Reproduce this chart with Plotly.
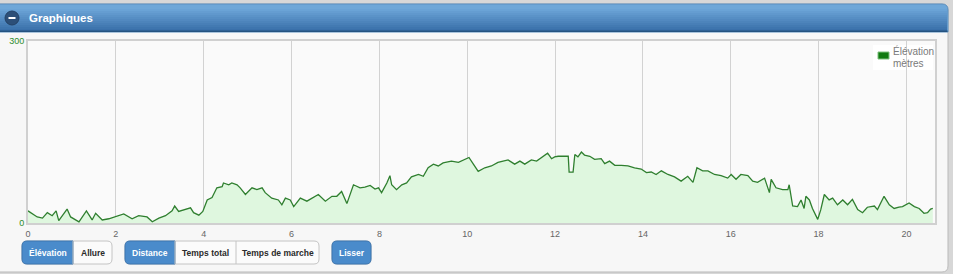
import plotly.graph_objects as go

# ---------------- data ----------------
distance_km = [
    0.0, 0.10, 0.21, 0.33, 0.44, 0.55, 0.64, 0.70, 0.89, 0.97,
    1.16, 1.33, 1.46, 1.54, 1.69, 1.84, 1.99, 2.18, 2.37, 2.52,
    2.71, 2.83, 2.98, 3.13, 3.28, 3.34, 3.43, 3.58, 3.70, 3.77,
    3.89, 3.98, 4.08, 4.19, 4.30, 4.42, 4.45, 4.57, 4.64, 4.76,
    4.83, 4.95, 5.10, 5.21, 5.33, 5.40, 5.55, 5.70, 5.78, 5.86,
    5.97, 6.05, 6.20, 6.35, 6.50, 6.61,
    6.77, 6.92, 7.03, 7.14, 7.26, 7.41, 7.56, 7.67, 7.79, 7.90,
    7.98, 8.05, 8.17, 8.24, 8.28, 8.39, 8.51, 8.62, 8.73, 8.89,
    9.00, 9.11, 9.23, 9.34, 9.45, 9.64, 9.80, 9.91, 9.96, 10.04,
    10.14, 10.25, 10.40, 10.55, 10.70, 10.82, 10.93, 11.08, 11.20, 11.31,
    11.46, 11.58, 11.69, 11.83, 11.92, 11.99, 12.07, 12.26, 12.30, 12.32,
    12.41, 12.45, 12.52, 12.60, 12.67, 12.79, 12.90, 13.05, 13.13, 13.24,
    13.36, 13.51, 13.66, 13.81,
    13.96, 14.08, 14.19, 14.30, 14.42, 14.57, 14.72, 14.87, 15.02, 15.14,
    15.23, 15.36, 15.48, 15.63, 15.78, 15.93, 16.01, 16.12, 16.23, 16.39,
    16.50, 16.61, 16.77, 16.88, 16.92, 17.03, 17.18, 17.30, 17.33, 17.41,
    17.52, 17.60, 17.67, 17.71, 17.79, 17.86, 17.98, 18.05, 18.13, 18.24,
    18.32, 18.43, 18.55, 18.66, 18.77, 18.89, 19.00, 19.11, 19.27, 19.34,
    19.49, 19.61, 19.72, 19.83, 19.91, 20.06, 20.18, 20.29, 20.40, 20.48,
    20.55, 20.6,
]
elevation_m = [
    20, 15, 10, 8, 17, 12, 20, 4, 23, 10,
    2, 20, 5, 16, 5, 7, 10, 15, 7, 12,
    10, 2, 8, 12, 20, 28, 19, 23, 25, 17,
    13, 19, 38, 42, 58, 60, 66, 63, 66, 63,
    58, 47, 58, 55, 58, 50, 41, 38, 30, 41,
    38, 27, 41, 36, 42, 47,
    36, 44, 44, 52, 32, 63, 58, 59, 62, 56,
    58, 50, 66, 78, 63, 55, 63, 66, 76, 80,
    77, 91, 97, 94, 99, 102, 100, 104, 105, 108,
    97, 85, 91, 94, 100, 102, 104, 97, 102, 97,
    104, 102, 108, 115, 106, 109, 110, 110, 110, 84,
    84, 113, 109, 117, 112, 110, 105, 106, 98, 102,
    95, 95, 94, 91,
    89, 83, 84, 80, 86, 80, 76, 69, 77, 67,
    91, 86, 86, 80, 78, 74, 80, 72, 80, 78,
    69, 67, 74, 50, 72, 58, 55, 55, 63, 28,
    27, 38, 24, 44, 38, 24, 6, 22, 47, 38,
    41, 30, 38, 30, 39, 22, 17, 26, 28, 22,
    44, 30, 24, 26, 27, 33, 27, 24, 16, 17,
    23, 24,
]
x_ticks = [0, 2, 4, 6, 8, 10, 12, 14, 16, 18, 20]
y_ticks = [0, 300]
y_tick_labels = ["0", "300"]
panel_title = "Graphiques"
legend_lines = ["Élévation", "mètres"]
buttons_group1 = ["Élévation", "Allure"]
buttons_group2 = ["Distance", "Temps total", "Temps de marche"]
button_single = "Lisser"

# ---------------- geometry helpers ----------------
W, H = 953, 274
ML, MR, MT, MB = 28, 18, 41, 51
PW, PH = W - ML - MR, H - MT - MB
FONT = "Liberation Sans, Arial, Helvetica, sans-serif"


def px(x):
    return (x - ML) / PW


def py(y):
    return (H - MB - y) / PH


def rpath(x0, y0, x1, y1, rtl=0, rtr=0, rbr=0, rbl=0):
    """rounded rectangle path from pixel coords (y down) to paper coords"""
    pts = []
    pts.append(f"M{px(x0 + rtl)},{py(y0)}")
    pts.append(f"L{px(x1 - rtr)},{py(y0)}")
    if rtr:
        pts.append(f"Q{px(x1)},{py(y0)} {px(x1)},{py(y0 + rtr)}")
    pts.append(f"L{px(x1)},{py(y1 - rbr)}")
    if rbr:
        pts.append(f"Q{px(x1)},{py(y1)} {px(x1 - rbr)},{py(y1)}")
    pts.append(f"L{px(x0 + rbl)},{py(y1)}")
    if rbl:
        pts.append(f"Q{px(x0)},{py(y1)} {px(x0)},{py(y1 - rbl)}")
    pts.append(f"L{px(x0)},{py(y0 + rtl)}")
    if rtl:
        pts.append(f"Q{px(x0)},{py(y0)} {px(x0 + rtl)},{py(y0)}")
    pts.append("Z")
    return " ".join(pts)


shapes = []
annotations = []


def add_path(path, fill, line_color=None, lw=0):
    shapes.append(dict(type="path", xref="paper", yref="paper", path=path,
                       fillcolor=fill, layer="below",
                       line=dict(color=line_color or fill, width=lw)))


def add_rect(x0, y0, x1, y1, fill, line_color=None, lw=0):
    shapes.append(dict(type="rect", xref="paper", yref="paper",
                       x0=px(x0), x1=px(x1), y0=py(y1), y1=py(y0),
                       fillcolor=fill, layer="below",
                       line=dict(color=line_color or fill, width=lw)))


def add_text(x, y, text, size, color, bold=False, xanchor="center"):
    annotations.append(dict(xref="paper", yref="paper", x=px(x), y=py(y),
                            text=f"<b>{text}</b>" if bold else text,
                            showarrow=False, xanchor=xanchor, yanchor="middle",
                            font=dict(family=FONT, size=size, color=color)))


# panel
add_path(rpath(-6, 4, 948, 272, 6, 6, 6, 6), "#f7f7f7", "#b9b9b9", 1)
# header with gradient
add_path(rpath(-6, 4, 948, 32, 6, 6, 0, 0), "#6ea7d8", "#5a8fc0", 1)
top_c = (106, 163, 214)
bot_c = (58, 112, 170)
n = 11
for i in range(n):
    t = i / (n - 1)
    c = tuple(int(top_c[k] + (bot_c[k] - top_c[k]) * t) for k in range(3))
    y0 = 9 + i * 2
    add_rect(-5, y0, 947, y0 + 2, "rgb(%d,%d,%d)" % c)
add_rect(-5, 30.5, 947.5, 32, "#24527f")
# minus icon
shapes.append(dict(type="circle", xref="paper", yref="paper",
                   x0=px(5), x1=px(19), y0=py(25), y1=py(11),
                   fillcolor="#2c4f78", layer="below",
                   line=dict(color="#244266", width=1)))
add_rect(8.5, 17, 15.5, 19, "#ffffff")
add_text(27, 17.5, panel_title, 11.5, "#ffffff", bold=True, xanchor="left")

# plot area background
add_rect(ML, MT, W - MR, H - MB, "#fafafa")

# legend (drawn marker + real text)
add_rect(873, 45, 933, 70, "rgba(255,255,255,0.85)")
add_rect(878, 52, 889, 59, "#107a10", "#7fc07f", 1)
add_text(891, 51, legend_lines[0], 10, "#7a7a7a", xanchor="left")
add_text(891, 63, legend_lines[1], 10, "#7a7a7a", xanchor="left")

# buttons
BLUE = "#4a8bcb"
BORDER = "#c4c4c4"
BY0, BY1 = 241, 264
BYC = (BY0 + BY1) / 2
R = 5


def button_group(x_edges, labels, active_idx):
    x0, x1 = x_edges[0], x_edges[-1]
    add_path(rpath(x0, BY0, x1, BY1, R, R, R, R), "#fbfbfb", BORDER, 1)
    for i, lab in enumerate(labels):
        a, b = x_edges[i], x_edges[i + 1]
        first, last = i == 0, i == len(labels) - 1
        if i == active_idx:
            add_path(rpath(a, BY0, b, BY1,
                           R if first else 0, R if last else 0,
                           R if last else 0, R if first else 0),
                     BLUE, "#3d76b0", 1)
            add_text((a + b) / 2, BYC, lab, 8.5, "#ffffff", bold=True)
        else:
            add_text((a + b) / 2, BYC, lab, 8.5, "#2a2a2a", bold=True)
        if i > 0:
            shapes.append(dict(type="line", xref="paper", yref="paper",
                               x0=px(a), x1=px(a), y0=py(BY1), y1=py(BY0),
                               layer="below", line=dict(color=BORDER, width=1)))


button_group([22, 73, 112], buttons_group1, 0)
button_group([125, 175, 236, 319], buttons_group2, 0)
button_group([332, 371], [button_single], 0)

# ---------------- figure ----------------
fig = go.Figure()
fig.add_trace(go.Scatter(
    x=distance_km, y=elevation_m, mode="lines",
    line=dict(color="#2f7f2f", width=1.3),
    fill="tozeroy", fillcolor="#dff7df",
    name="Élévation mètres", showlegend=False, hoverinfo="x+y",
))

fig.update_layout(
    width=W, height=H,
    margin=dict(l=ML, r=MR, t=MT, b=MB, pad=0, autoexpand=False),
    paper_bgcolor="#d7d7d7",
    plot_bgcolor="rgba(0,0,0,0)",
    shapes=shapes,
    annotations=annotations,
    showlegend=False,
    font=dict(family=FONT),
    xaxis=dict(
        range=[0, 20.65], tickvals=x_ticks, automargin=False,
        showgrid=True, gridcolor="#d2d2d2", gridwidth=1,
        zeroline=False, showline=True, mirror=True,
        linecolor="#d0d0d0", linewidth=2,
        ticks="", tickfont=dict(size=9, color="#666666", family=FONT),
        ticklabelstandoff=1, fixedrange=True,
    ),
    yaxis=dict(
        range=[0, 300], tickvals=y_ticks, ticktext=y_tick_labels,
        automargin=False,
        showgrid=False, zeroline=False, showline=True, mirror=True,
        linecolor="#d0d0d0", linewidth=2,
        ticks="", tickfont=dict(size=9, color="#2c8c2c", family=FONT),
        ticklabelstandoff=0, fixedrange=True,
    ),
)

fig.write_html("out.html")
